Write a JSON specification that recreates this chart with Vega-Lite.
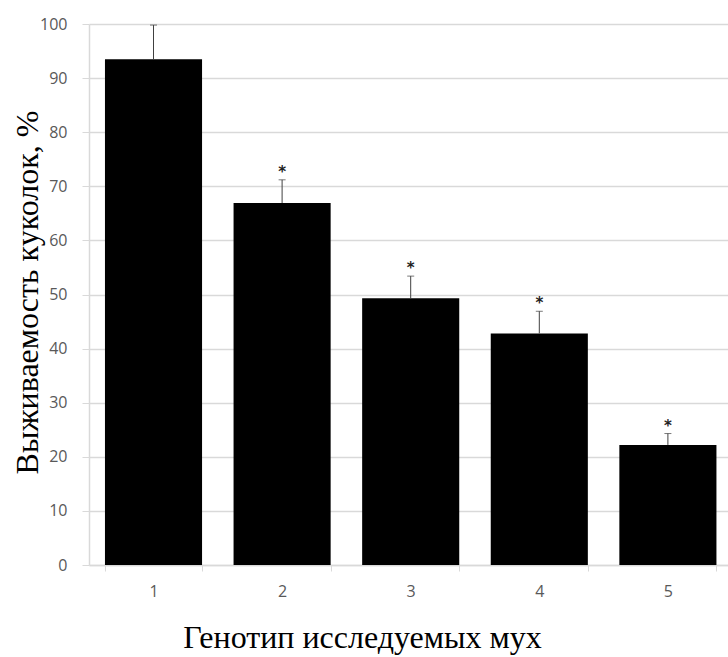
{
  "$schema": "https://vega.github.io/schema/vega-lite/v6.json",
  "width": 639,
  "height": 541,
  "autosize": {"type": "none"},
  "padding": {"left": 89, "top": 24, "right": 0, "bottom": 92},
  "background": "white",
  "config": {"view": {"stroke": null}},
  "data": {
    "values": [
      {"g": "1", "v": 93.5, "hi": 99.8, "sig": ""},
      {"g": "2", "v": 66.9, "hi": 71.2, "sig": "*"},
      {"g": "3", "v": 49.3, "hi": 53.4, "sig": "*"},
      {"g": "4", "v": 42.8, "hi": 46.9, "sig": "*"},
      {"g": "5", "v": 22.2, "hi": 24.3, "sig": "*"}
    ]
  },
  "encoding": {
    "x": {
      "field": "g",
      "type": "ordinal",
      "scale": {"paddingInner": 0.245, "paddingOuter": 0.107, "align": 0.58},
      "axis": {
        "title": "Генотип исследуемых мух",
        "titleFont": "Liberation Serif",
        "titleFontSize": 32,
        "titleFontWeight": "normal",
        "titleColor": "#000000",
        "titleX": 273,
        "titleY": 82,
        "titleAnchor": "middle",
        "titleAlign": "center",
        "titleBaseline": "alphabetic",
        "labelAngle": 0,
        "labelFont": "Open Sans",
        "labelFontSize": 16,
        "labelColor": "#595959",
        "labelPadding": 12,
        "tickBand": "extent",
        "tickSize": 6,
        "tickColor": "#d9d9d9",
        "domainColor": "#d9d9d9",
        "domainWidth": 1.5
      }
    }
  },
  "layer": [
    {
      "mark": {"type": "bar", "color": "#000000"},
      "encoding": {
        "y": {
          "field": "v",
          "type": "quantitative",
          "scale": {"domain": [0, 100]},
          "axis": {
            "title": "Выживаемость куколок, %",
            "titleFont": "Liberation Serif",
            "titleFontSize": 32,
            "titleFontWeight": "normal",
            "titleColor": "#000000",
            "titleX": -52,
            "titleY": 268,
            "titleAngle": -90,
            "titleAlign": "center",
            "titleBaseline": "alphabetic",
            "values": [0, 10, 20, 30, 40, 50, 60, 70, 80, 90, 100],
            "labelFont": "Open Sans",
            "labelFontSize": 16,
            "labelColor": "#595959",
            "labelPadding": 15,
            "tickSize": 7,
            "tickColor": "#d9d9d9",
            "gridColor": "#d9d9d9",
            "gridWidth": 1.5,
            "domainColor": "#d9d9d9",
            "domainWidth": 1.5
          }
        }
      }
    },
    {
      "mark": {"type": "rule", "color": "#404040", "strokeWidth": 1},
      "encoding": {
        "y": {"field": "v", "type": "quantitative"},
        "y2": {"field": "hi"}
      }
    },
    {
      "mark": {"type": "tick", "color": "#404040", "thickness": 1, "size": 7, "orient": "horizontal"},
      "encoding": {
        "y": {"field": "hi", "type": "quantitative"}
      }
    },
    {
      "mark": {"type": "text", "font": "DejaVu Sans", "fontSize": 15, "fontWeight": "bold", "color": "#222222", "baseline": "alphabetic", "dy": -3},
      "encoding": {
        "y": {"field": "hi", "type": "quantitative"},
        "text": {"field": "sig"}
      }
    }
  ]
}
